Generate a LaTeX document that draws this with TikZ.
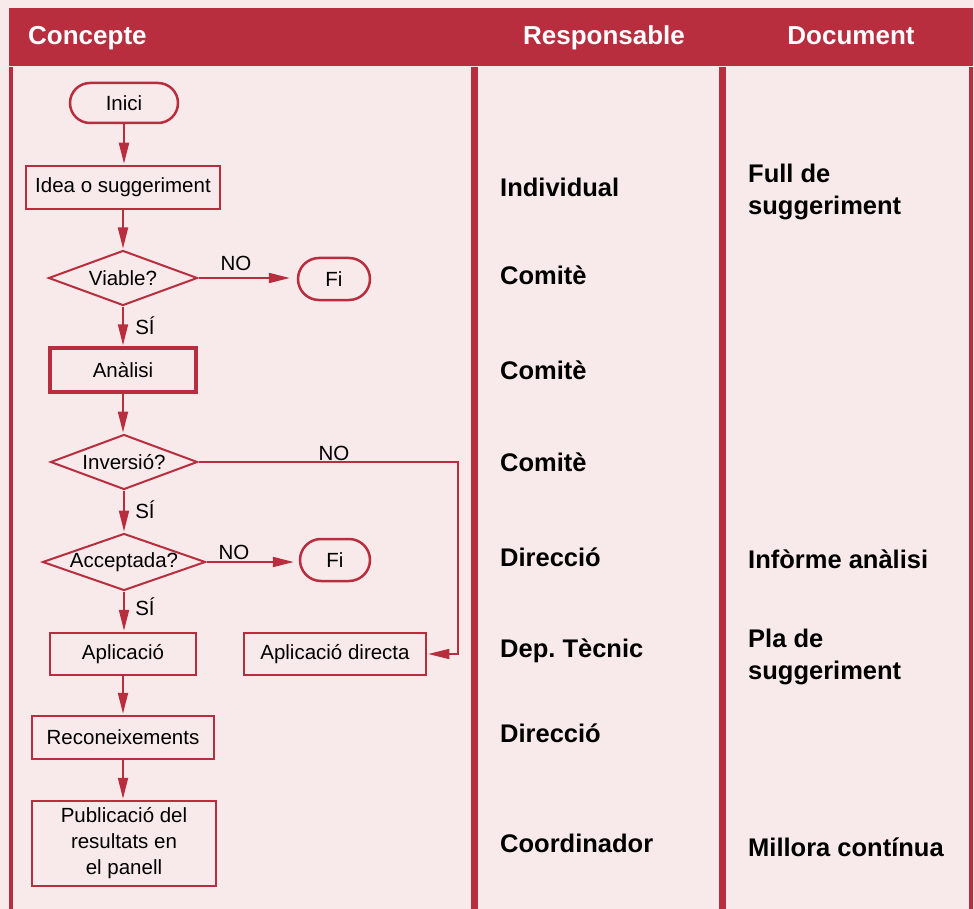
\documentclass[tikz,border=0pt]{standalone}
\usepackage{fontspec}
\setmainfont{Liberation Sans}
\usetikzlibrary{arrows.meta,shapes.geometric,shapes.misc}
\definecolor{rojo}{RGB}{185,46,63}
\definecolor{rosa}{RGB}{248,233,234}
\frenchspacing
\begin{document}
\begin{tikzpicture}[x=1pt,y=-1pt,
  flow/.style={font=\fontsize{20.5}{26}\selectfont, text=black},
  box/.style={flow, draw=rojo, line width=2.5pt, rectangle, inner sep=0pt, align=center},
  term/.style={flow, draw=rojo, line width=2.5pt, rounded rectangle, inner sep=0pt},
  dia/.style={flow, draw=rojo, line width=2pt, diamond, inner sep=0pt, aspect=1},
  arr/.style={draw=rojo, line width=2pt, -{Triangle[length=21pt,width=10pt]}, shorten >=1pt},
  lbl/.style={flow},
  boldlbl/.style={font=\fontsize{25.5}{32}\selectfont\bfseries, anchor=west, align=left, text=black, inner sep=0pt},
  head/.style={font=\fontsize{26}{30}\selectfont\bfseries, text=white, inner sep=0pt},
  bar/.style={draw=rojo, line width=7pt},
  border/.style={draw=rojo, line width=4pt}]
\fill[rosa] (0,0) rectangle (974,909);
\useasboundingbox (0,0) rectangle (974,909);
% header
\fill[rojo] (9,8) rectangle (973,66);
\node[head, anchor=base west] (hc) at (28,45) {Concepte};
\node[head, anchor=base] (hr) at (604,45) {Responsable};
\node[head, anchor=base] (hd) at (851,45) {Document};
% grid lines
\draw[border] (11,67) -- (11,909);
\draw[border] (971,67) -- (971,909);
\draw[bar] (474.5,67) -- (474.5,909);
\draw[bar] (722.5,67) -- (722.5,909);
% flowchart nodes
\node[term, minimum width=108pt, minimum height=40pt] (inici) at (124,103) {Inici};
\node[box, minimum width=194pt, minimum height=43pt] (idea) at (123,187.5) {Idea o suggeriment};
\node[dia, minimum width=149pt, minimum height=55pt] (viable) at (123,278) {\makebox[0pt]{Viable?}};
\node[term, minimum width=72pt, minimum height=42pt] (fi1) at (334,279) {Fi};
\node[box, line width=3.5pt, minimum width=146pt, minimum height=44pt] (analisi) at (123,370) {Anàlisi};
\node[dia, minimum width=147pt, minimum height=55pt] (inversio) at (124,462) {\makebox[0pt]{Inversió?}};
\node[dia, minimum width=163pt, minimum height=57pt] (accept) at (124,562) {\makebox[0pt]{Acceptada?}};
\node[term, minimum width=70pt, minimum height=42pt] (fi2) at (335,560) {Fi};
\node[box, minimum width=146pt, minimum height=42pt] (aplic) at (123,654) {Aplicació};
\node[box, minimum width=182pt, minimum height=42pt] (directa) at (335,654) {Aplicació directa};
\node[box, minimum width=182pt, minimum height=43pt] (recon) at (123,737.5) {Reconeixements};
\node[box, minimum width=184pt, minimum height=85pt] (publ) at (124,843.5) {Publicació del\\resultats en\\el panell};
% connectors
\draw[arr] (inici.south) -- (inici.south |- idea.north);
\draw[arr] (idea.south) -- (idea.south |- viable.north);
\draw[arr, shorten >=7pt] (viable.east) -- (viable.east -| fi1.west);
\draw[arr] (viable.south) -- (viable.south |- analisi.north);
\draw[arr] (analisi.south) -- (analisi.south |- inversio.north);
\coordinate (bend) at (458,462);
\draw[arr, line width=1.6pt] (inversio.east) -- (bend) |- (directa.east);
\draw[arr] (inversio.south) -- (inversio.south |- accept.north);
\draw[arr, shorten >=5pt] (accept.east) -- (accept.east -| fi2.west);
\draw[arr] (accept.south) -- (accept.south |- aplic.north);
\draw[arr] (aplic.south) -- (aplic.south |- recon.north);
\draw[arr] (recon.south) -- (recon.south |- publ.north);
% branch labels
\node[lbl] (no1) at (236,263) {NO};
\node[lbl] (si1) at (145,326) {SÍ};
\node[lbl] (no2) at (334,453) {NO};
\node[lbl] (si2) at (145,510) {SÍ};
\node[lbl] (no3) at (234,552) {NO};
\node[lbl] (si3) at (145,607) {SÍ};
% responsable column
\node[boldlbl] (r1) at (500,187) {Individual};
\node[boldlbl] (r2) at (500,275) {Comitè};
\node[boldlbl] (r3) at (500,370) {Comitè};
\node[boldlbl] (r4) at (500,462) {Comitè};
\node[boldlbl] (r5) at (500,557) {Direcció};
\node[boldlbl] (r6) at (500,651) {Dep.\ Tècnic};
\node[boldlbl] (r7) at (500,733) {Direcció};
\node[boldlbl] (r8) at (500,843) {Coordinador};
% document column
\node[boldlbl] (d1) at (748,192) {Full de\\suggeriment};
\node[boldlbl] (d2) at (748,559) {Infòrme anàlisi};
\node[boldlbl] (d3) at (748,657) {Pla de\\suggeriment};
\node[boldlbl] (d4) at (748,847) {Millora contínua};
\end{tikzpicture}
\end{document}
